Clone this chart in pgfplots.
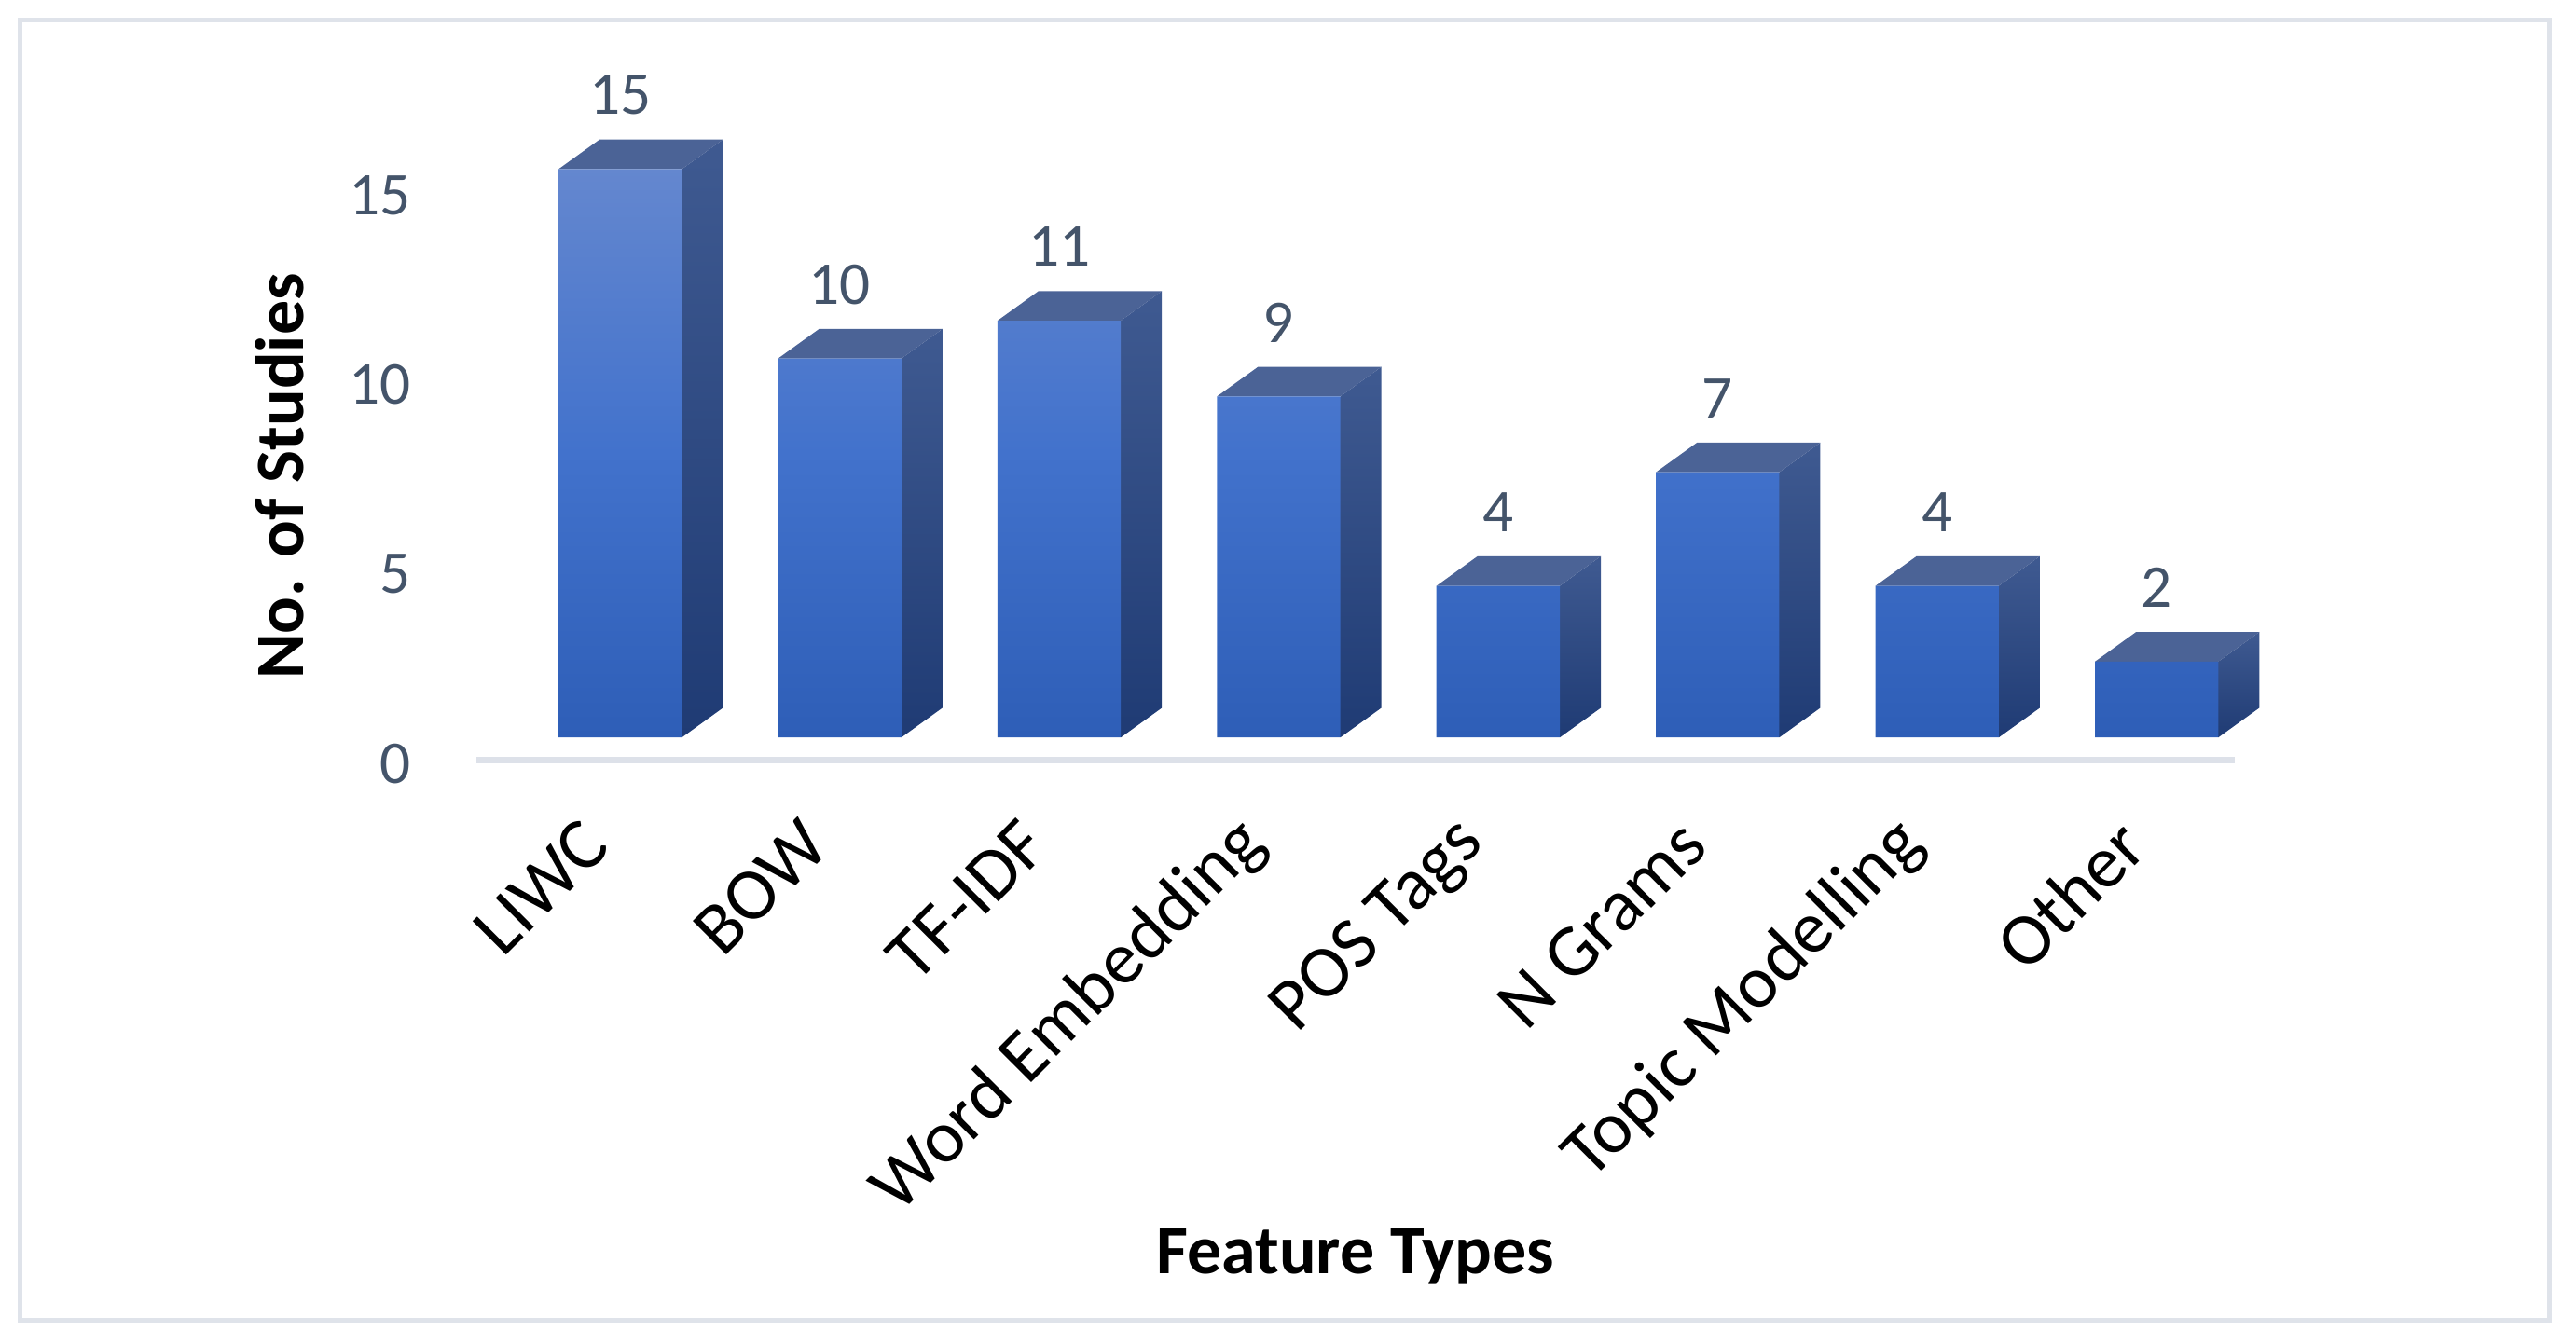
\documentclass[border=0pt]{standalone}
\usepackage{fontspec}
\setmainfont{Carlito}
\usepackage{pgfplots}
\pgfplotsset{compat=1.18}

\definecolor{frontTop}{HTML}{6487CF}
\definecolor{frontMid}{HTML}{4272CC}
\definecolor{frontBot}{HTML}{2E5EB7}
\definecolor{sideTop}{HTML}{3F5A91}
\definecolor{sideBot}{HTML}{1F3B74}
\definecolor{topFace}{HTML}{4B6396}
\definecolor{labelGray}{HTML}{44546A}
\definecolor{floorGray}{HTML}{DDE1E9}
\definecolor{frameGray}{HTML}{DFE3EA}

\begin{document}
\begin{tikzpicture}
\useasboundingbox (-145pt,-177.5pt) rectangle (639pt,231.5pt);
\draw[frameGray, line width=1.4pt] (-139pt,-170.5pt) rectangle (631pt,225.5pt);
\begin{axis}[
    scale only axis,
    width=535pt, height=211.5pt,
    xmin=-0.655, xmax=7.354,
    ymin=-0.607, ymax=17.73,
    clip=false,
    axis line style={draw=none},
    tick style={draw=none},
    xtick={0,1,2,3,4,5,6,7},
    xticklabels={LIWC,BOW,TF-IDF,Word Embedding,POS Tags,N Grams,Topic Modelling,Other},
    xticklabel style={xshift=-5pt, yshift=-19.5pt, rotate=45, anchor=east,
        font=\fontsize{22.5}{26}\selectfont},
    ytick={0,5,10,15},
    yticklabels={0,5,10,15},
    yticklabel style={font=\fontsize{18.5}{22}\selectfont, text=labelGray,
        xshift=-16.5pt, yshift=-8pt},
    xlabel={\textbf{Feature Types}},
    ylabel={\textbf{No. of Studies}},
    xlabel style={at={(axis description cs:0.5,-0.714)}, anchor=center,
        font=\fontsize{21}{25}\selectfont},
    ylabel style={at={(axis description cs:-0.112,0.409)}, anchor=center,
        font=\fontsize{21}{25}\selectfont},
    /pgf/number format/assume math mode=true,
]
% floor
\addplot[floorGray, line width=2pt] coordinates {(-0.655,-0.607) (7.354,-0.607)};

% side and top faces of the boxes
\foreach \x/\v in {0/15,1/10,2/11,3/9,4/4,5/7,6/4,7/2} {
    \pgfmathsetmacro\xa{\x+0.281}
    \pgfmathsetmacro\xb{\x+0.281+0.187}
    \pgfmathsetmacro\xc{\x-0.281}
    \pgfmathsetmacro\xd{\x-0.281+0.187}
    \pgfmathsetmacro\vt{\v+0.78}
    \edef\tmp{%
        \noexpand\addplot[draw=none, top color=sideTop, bottom color=sideBot]
            coordinates {(\xa,0) (\xb,0.78) (\xb,\vt) (\xa,\v)} --cycle;
        \noexpand\addplot[draw=none, fill=topFace]
            coordinates {(\xc,\v) (\xa,\v) (\xb,\vt) (\xd,\vt)} --cycle;
    }
    \tmp
}

% front faces with value labels
\addplot[ybar, bar width=0.562, draw=none,
    top color=frontTop, bottom color=frontBot, middle color=frontMid,
    nodes near coords,
    every node near coord/.append style={anchor=center, yshift=22.5pt,
        text=labelGray, font=\fontsize{18.5}{22}\selectfont}]
    coordinates {(0,15) (1,10) (2,11) (3,9) (4,4) (5,7) (6,4) (7,2)};
\end{axis}
\end{tikzpicture}
\end{document}
